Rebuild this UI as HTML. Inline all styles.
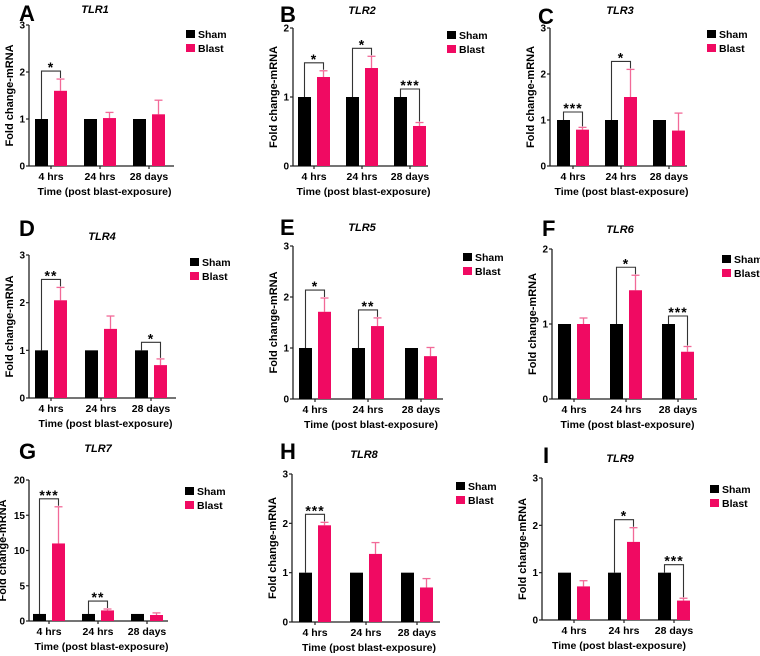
<!DOCTYPE html>
<html><head><meta charset="utf-8">
<style>
html,body{margin:0;padding:0;background:#fff;}
svg{display:block;font-family:"Liberation Sans",Arial,sans-serif;}
</style></head>
<body>
<svg id="fig" width="760" height="656" viewBox="0 0 760 656"></svg>
<script>
// ---- data ----
const categories = ["4 hrs", "24 hrs", "28 days"];
const shamValues = [1, 1, 1];
const blastTLR1 = [1.6, 1.02, 1.1];   const errTLR1 = [0.25, 0.12, 0.3];  const sigTLR1 = ["*", "", ""];
const blastTLR2 = [1.29, 1.42, 0.58]; const errTLR2 = [0.09, 0.17, 0.05]; const sigTLR2 = ["*", "*", "***"];
const blastTLR3 = [0.79, 1.5, 0.77];  const errTLR3 = [0.05, 0.6, 0.38];  const sigTLR3 = ["***", "*", ""];
const blastTLR4 = [2.05, 1.45, 0.69]; const errTLR4 = [0.27, 0.27, 0.13]; const sigTLR4 = ["**", "", "*"];
const blastTLR5 = [1.71, 1.43, 0.84]; const errTLR5 = [0.27, 0.16, 0.17]; const sigTLR5 = ["*", "**", ""];
const blastTLR6 = [1.0, 1.45, 0.63];  const errTLR6 = [0.08, 0.2, 0.07];  const sigTLR6 = ["", "*", "***"];
const blastTLR7 = [11, 1.5, 0.85];    const errTLR7 = [5.2, 0.2, 0.3];    const sigTLR7 = ["***", "**", ""];
const blastTLR8 = [1.96, 1.38, 0.7];  const errTLR8 = [0.06, 0.23, 0.18]; const sigTLR8 = ["***", "", ""];
const blastTLR9 = [0.71, 1.65, 0.41]; const errTLR9 = [0.12, 0.3, 0.05];  const sigTLR9 = ["", "*", "***"];
const ticks3 = [0, 1, 2, 3];
const ticks2 = [0, 1, 2];
const ticks20 = [0, 5, 10, 15, 20];

// ---- layout ----
const panels = [
 {L:"A",t:"TLR1",b:blastTLR1,e:errTLR1,s:sigTLR1,ticks:ticks3,ax:29,top:25,bot:166,x0:35,sp:49,end:174,lg:186,ly:30,tx:95,ty:13,lx:19,lty:21,yo:16},
 {L:"B",t:"TLR2",b:blastTLR2,e:errTLR2,s:sigTLR2,ticks:ticks2,ax:293,top:28,bot:166,x0:298,sp:48,end:428,lg:447,ly:31,tx:362,ty:14,lx:280,lty:22,yo:16},
 {L:"C",t:"TLR3",b:blastTLR3,e:errTLR3,s:sigTLR3,ticks:ticks3,ax:550,top:28,bot:166,x0:557,sp:48,end:687,lg:707,ly:30,tx:620,ty:14,lx:538,lty:24,yo:16},
 {L:"D",t:"TLR4",b:blastTLR4,e:errTLR4,s:sigTLR4,ticks:ticks3,ax:29,top:255,bot:398,x0:35,sp:50,end:176,lg:190,ly:258,tx:102,ty:240,lx:19,lty:236,yo:16},
 {L:"E",t:"TLR5",b:blastTLR5,e:errTLR5,s:sigTLR5,ticks:ticks3,ax:293,top:246,bot:399,x0:299,sp:53,end:443,lg:463,ly:253,tx:362,ty:231,lx:280,lty:235,yo:16},
 {L:"F",t:"TLR6",b:blastTLR6,e:errTLR6,s:sigTLR6,ticks:ticks2,ax:552,top:249,bot:399,x0:558,sp:52,end:697,lg:722,ly:255,tx:620,ty:233,lx:542,lty:236,yo:16},
 {L:"G",t:"TLR7",b:blastTLR7,e:errTLR7,s:sigTLR7,ticks:ticks20,ax:29,top:480,bot:621,x0:33,sp:49,end:168,lg:185,ly:487,tx:98,ty:452,lx:19,lty:459,yo:23},
 {L:"H",t:"TLR8",b:blastTLR8,e:errTLR8,s:sigTLR8,ticks:ticks3,ax:292,top:474,bot:622,x0:299,sp:51,end:440,lg:456,ly:482,tx:364,ty:458,lx:280,lty:459,yo:16},
 {L:"I",t:"TLR9",b:blastTLR9,e:errTLR9,s:sigTLR9,ticks:ticks3,ax:542,top:478,bot:620,x0:558,sp:50,end:690,lg:710,ly:485,tx:620,ty:462,lx:543,lty:463,yo:16}
];
const PINK = "#f00a62", EPINK = "#f26a98", BW = 13, BOFF = 19;
const svg = document.getElementById("fig");
const NS = "http://www.w3.org/2000/svg";
function mk(tag, attrs, parent, text){
  const el = document.createElementNS(NS, tag);
  for (const k in attrs) el.setAttribute(k, attrs[k]);
  if (text !== undefined) el.textContent = text;
  parent.appendChild(el); return el;
}
panels.forEach(p => {
  const g = mk("g", {}, svg);
  
  
  const ymax = p.ticks[p.ticks.length - 1];
  const y = v => p.bot - (v / ymax) * (p.bot - p.top);
  const xs = i => p.x0 + i * p.sp;
  const lt = mk("text", {x:p.lx, y:p.lty, "font-size":22, "font-weight":"bold", fill:"#000"}, g, p.L);
  
  
  const tt = mk("text", {x:p.tx, y:p.ty, "font-size":11, "font-weight":"bold", "font-style":"italic", "text-anchor":"middle"}, g, p.t);
  
  
  const ya = mk("line", {x1:p.ax, y1:p.top, x2:p.ax, y2:p.bot, stroke:"#222", "stroke-width":1.3}, g);
  
  
  const xa = mk("line", {x1:p.ax, y1:p.bot, x2:p.end, y2:p.bot, stroke:"#222", "stroke-width":1.3}, g);
  
  
  p.ticks.forEach(t => {
    mk("line", {x1:p.ax - 3, y1:y(t), x2:p.ax, y2:y(t), stroke:"#222", "stroke-width":1.2}, g);
    const tl = mk("text", {x:p.ax - 4, y:y(t) + 3.5, "font-size":10, "font-weight":"bold", "text-anchor":"end"}, g, t);
    
    
  });
  const yt = mk("text", {x:0, y:0, "font-size":11, "font-weight":"bold", "text-anchor":"middle",
    transform:`translate(${p.ax - p.yo},${(p.top + p.bot) / 2}) rotate(-90)`}, g, "Fold change-mRNA");
  
  
  categories.forEach((c, i) => {
    const cx = xs(i) + (BOFF + BW) / 2;
    mk("line", {x1:cx, y1:p.bot, x2:cx, y2:p.bot + 3, stroke:"#222", "stroke-width":1.2}, g);
    const cl = mk("text", {x:cx, y:p.bot + 14, "font-size":10.5, "font-weight":"bold", "text-anchor":"middle"}, g, c);
    
    
    const sb = mk("rect", {x:xs(i), y:y(shamValues[i]), width:BW, height:p.bot - y(shamValues[i]), fill:"#000"}, g);
    
    
    const bx = xs(i) + BOFF, bc = bx + BW / 2, et = y(p.b[i] + p.e[i]);
    mk("line", {x1:bc, y1:y(p.b[i]), x2:bc, y2:et, stroke:EPINK, "stroke-width":1.3}, g);
    mk("line", {x1:bc - 4, y1:et, x2:bc + 4, y2:et, stroke:EPINK, "stroke-width":1.3}, g);
    const bb = mk("rect", {x:bx, y:y(p.b[i]), width:BW, height:p.bot - y(p.b[i]), fill:PINK}, g);
    
    
    if (p.s[i]) {
      const lx = xs(i) + BW / 2;
      const by = Math.min(y(shamValues[i]), et) - 8;
      const br = mk("path", {d:`M${lx},${y(shamValues[i])} V${by} H${bc} V${et - 1}`, fill:"none", stroke:"#333", "stroke-width":1.1}, g);
      
      
      const st = mk("text", {x:(lx + bc) / 2, y:by + 1, "font-size":14, "font-weight":"bold", "text-anchor":"middle", "letter-spacing":"1"}, g, p.s[i]);
      
      
    }
  });
  const xt = mk("text", {x:(p.ax + p.end) / 2 + 3, y:p.bot + 29, "font-size":10.5, "font-weight":"bold", "text-anchor":"middle"}, g, "Time (post blast-exposure)");
  
  
  [["Sham", "#000"], ["Blast", PINK]].forEach((l, k) => {
    const ly = p.ly + k * 14;
    const ls = mk("rect", {x:p.lg, y:ly, width:9, height:8, fill:l[1]}, g);
    
    
    const lt2 = mk("text", {x:p.lg + 12, y:ly + 8, "font-size":10.5, "font-weight":"bold"}, g, l[0]);
    
    
  });
});
</script>
</body></html>
